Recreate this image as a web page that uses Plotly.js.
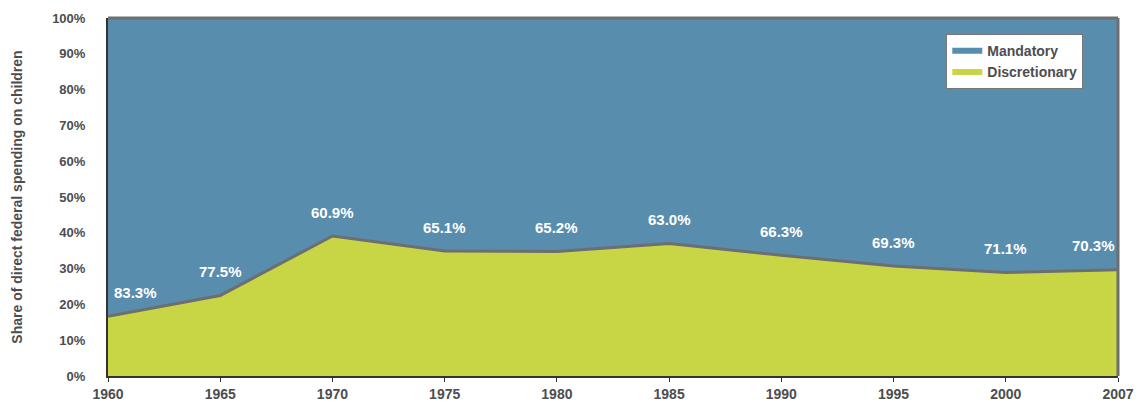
<!DOCTYPE html>
<html><head><meta charset="utf-8">
<script src="https://cdn.plot.ly/plotly-3.0.1.min.js"></script>
<style>html,body{margin:0;padding:0;background:#fff}</style>
</head><body>
<div id="chart" style="width:1138px;height:408px"></div>
<script>
var years = ['1960','1965','1970','1975','1980','1985','1990','1995','2000','2007'];
var mandatory = [83.3, 77.5, 60.9, 65.1, 65.2, 63.0, 66.3, 69.3, 71.1, 70.3];
var discretionary = [16.7, 22.5, 39.1, 34.9, 34.8, 37.0, 33.7, 30.7, 28.9, 29.7];
var labels = ['83.3%','77.5%','60.9%','65.1%','65.2%','63.0%','66.3%','69.3%','71.1%','70.3%'];

var FONT = 'Liberation Sans Narrow, Arial Narrow, Liberation Sans, sans-serif';
var traces = [
  {x: years, y: discretionary, name: 'Discretionary', type: 'scatter', mode: 'none',
   stackgroup: 'one', fillcolor: '#c8d645', line: {width: 0}, hoverinfo: 'skip'},
  {x: years, y: mandatory, name: 'Mandatory', type: 'scatter', mode: 'none',
   stackgroup: 'one', fillcolor: '#598dae', line: {width: 0}, hoverinfo: 'skip'},
  {x: years, y: discretionary, type: 'scatter', mode: 'lines', showlegend: false,
   line: {color: '#6d6e71', width: 3}, hoverinfo: 'skip'}
];

var annotations = years.map(function(yr, i){
  var a = {x: i, y: discretionary[i], xref: 'x', yref: 'y', text: labels[i], showarrow: false,
    yshift: 24, xanchor: 'center', yanchor: 'middle',
    font: {family: FONT, size: 15, color: '#ffffff', weight: 'bold'}};
  if (i === 0) { a.xanchor = 'left'; a.xshift = 4; }
  if (i === years.length - 1) { a.xanchor = 'right'; a.xshift = -1; }
  return a;
});

var layout = {
  width: 1138, height: 408,
  margin: {l: 108, r: 20, t: 18, b: 32},
  paper_bgcolor: '#ffffff', plot_bgcolor: '#598dae',
  font: {family: FONT, size: 14, color: '#4d4d4f', weight: 'bold'},
  showlegend: true,
  legend: {x: 0.83, y: 0.955, xanchor: 'left', yanchor: 'top', traceorder: 'reversed',
    bgcolor: '#ffffff', bordercolor: '#777777', borderwidth: 1, itemwidth: 30,
    font: {family: FONT, size: 14, color: '#4d4d4f', weight: 'bold'}},
  xaxis: {type: 'category', range: [0, 9], showgrid: false, zeroline: false,
    showline: true, linecolor: '#333333', linewidth: 2,
    ticks: 'outside', ticklen: 4, tickcolor: '#333333', tickwidth: 1,
    tickfont: {family: FONT, size: 14, color: '#4d4d4f', weight: 'bold'}},
  yaxis: {range: [0, 100], dtick: 10, ticksuffix: '%', showgrid: false, zeroline: false,
    showline: true, linecolor: '#333333', linewidth: 2, ticks: '', ticklabelstandoff: 18,
    tickfont: {family: FONT, size: 13, color: '#4d4d4f', weight: 'bold'},
    title: {text: 'Share of direct federal spending on children', standoff: 26,
      font: {family: FONT, size: 14, color: '#4d4d4f', weight: 'bold'}}},
  shapes: [
    {type: 'line', xref: 'paper', yref: 'paper', x0: 0, x1: 1, y0: 1, y1: 1,
     line: {color: '#6d6e71', width: 3}, layer: 'above'},
    {type: 'line', xref: 'paper', yref: 'paper', x0: 1, x1: 1, y0: 0, y1: 1,
     line: {color: '#6d6e71', width: 3}, layer: 'above'}
  ],
  annotations: annotations
};

Plotly.newPlot('chart', traces, layout, {displayModeBar: false, staticPlot: true});
</script>
</body></html>
